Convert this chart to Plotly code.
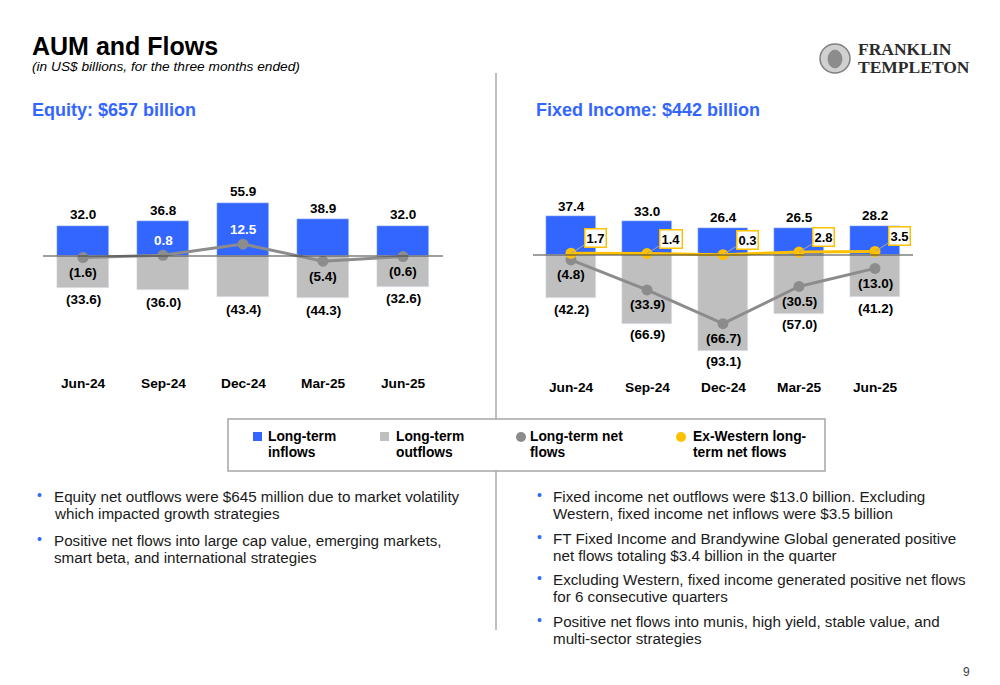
import plotly.graph_objects as go

# page is rendered with an 8px body margin, so the figure is shifted by OFF
OFF = 8
W, H = 1000 - OFF, 685 - OFF

# ---------------- data ----------------
quarters = ["Jun-24", "Sep-24", "Dec-24", "Mar-25", "Jun-25"]

eq_inflows = [32.0, 36.8, 55.9, 38.9, 32.0]
eq_outflows = [-33.6, -36.0, -43.4, -44.3, -32.6]
eq_net = [-1.6, 0.8, 12.5, -5.4, -0.6]

fi_inflows = [37.4, 33.0, 26.4, 26.5, 28.2]
fi_outflows = [-42.2, -66.9, -93.1, -57.0, -41.2]
fi_net = [-4.8, -33.9, -66.7, -30.5, -13.0]
fi_exwestern_net = [1.7, 1.4, 0.3, 2.8, 3.5]

title = "AUM and Flows"
subtitle = "(in US$ billions, for the three months ended)"
equity_header = "Equity: $657 billion"
fi_header = "Fixed Income: $442 billion"

legend_labels = [
    ["Long-term", "inflows"],
    ["Long-term", "outflows"],
    ["Long-term net", "flows"],
    ["Ex-Western long-", "term net flows"],
]

bullets_left = [
    ["Equity net outflows were $645 million due to market volatility",
     "which impacted growth strategies"],
    ["Positive net flows into large cap value, emerging markets,",
     "smart beta, and international strategies"],
]
bullets_right = [
    ["Fixed income net outflows were $13.0 billion. Excluding",
     "Western, fixed income net inflows were $3.5 billion"],
    ["FT Fixed Income and Brandywine Global generated positive",
     "net flows totaling $3.4 billion in the quarter"],
    ["Excluding Western, fixed income generated positive net flows",
     "for 6 consecutive quarters"],
    ["Positive net flows into munis, high yield, stable value, and",
     "multi-sector strategies"],
]
page_number = "9"

# ---------------- style ----------------
BLUE = "#3366FF"
GRAY_BAR = "#BFBFBF"
NET_GRAY = "#8C8C8C"
GOLD = "#FFC000"
FONT = "Liberation Sans"
LBL = 13.5


def px(x):
    return (x - OFF) / W


def py(y):
    return 1 - (y - OFF) / H


def fmt(v):
    return f"({abs(v):.1f})" if v < 0 else f"{v:.1f}"


# chart geometry (page pixels)
PLOT_TOP, PLOT_BOT = 140, 372
EQ_X0, EQ_X1, EQ_ZERO, EQ_SCALE = 43, 443, 256, 0.95
FI_X0, FI_X1, FI_ZERO, FI_SCALE = 533, 913, 255, 1.03

fig = go.Figure()

# equity bars
fig.add_trace(go.Bar(x=quarters, y=eq_inflows, marker_color=BLUE, width=0.65,
                     xaxis="x", yaxis="y", hoverinfo="skip"))
fig.add_trace(go.Bar(x=quarters, y=eq_outflows, marker_color=GRAY_BAR, width=0.65,
                     xaxis="x", yaxis="y", hoverinfo="skip"))
# fixed income bars
fig.add_trace(go.Bar(x=quarters, y=fi_inflows, marker_color=BLUE, width=0.645,
                     xaxis="x2", yaxis="y2", hoverinfo="skip"))
fig.add_trace(go.Bar(x=quarters, y=fi_outflows, marker_color=GRAY_BAR, width=0.645,
                     xaxis="x2", yaxis="y2", hoverinfo="skip"))
# net lines
fig.add_trace(go.Scatter(x=quarters, y=eq_net, mode="lines+markers",
                         line=dict(color=NET_GRAY, width=3),
                         marker=dict(color=NET_GRAY, size=11),
                         xaxis="x", yaxis="y", hoverinfo="skip"))
fig.add_trace(go.Scatter(x=quarters, y=fi_net, mode="lines+markers",
                         line=dict(color=NET_GRAY, width=3),
                         marker=dict(color=NET_GRAY, size=11),
                         xaxis="x2", yaxis="y2", hoverinfo="skip"))
fig.add_trace(go.Scatter(x=quarters, y=fi_exwestern_net, mode="lines+markers",
                         line=dict(color=GOLD, width=3),
                         marker=dict(color=GOLD, size=11),
                         xaxis="x2", yaxis="y2", hoverinfo="skip"))

annotations = []
shapes = []


def label(x, y, text, xref, yref, size=LBL, color="black", yshift=0, xshift=0):
    annotations.append(dict(x=x, y=y, xref=xref, yref=yref, text=f"<b>{text}</b>",
                            showarrow=False,
                            font=dict(family=FONT, size=size, color=color),
                            xanchor="center", yanchor="middle",
                            yshift=yshift, xshift=xshift))


def page_text(x, y, text, size, color="black", family=FONT, xanchor="left"):
    annotations.append(dict(x=px(x), y=py(y), xref="paper", yref="paper", text=text,
                            showarrow=False, xanchor=xanchor, yanchor="middle",
                            font=dict(family=family, size=size, color=color)))


# equity labels
for q, vi, vo, vn in zip(quarters, eq_inflows, eq_outflows, eq_net):
    label(q, vi, fmt(vi), "x", "y", yshift=11)
    label(q, vo, fmt(vo), "x", "y", yshift=-12)
    if vn >= 0:
        label(q, vn, fmt(vn), "x", "y", color="white", yshift=15)
    else:
        label(q, vn, fmt(vn), "x", "y", yshift=-15)
    annotations.append(dict(x=q, y=py(383), xref="x", yref="paper", text=f"<b>{q}</b>",
                            showarrow=False, font=dict(family=FONT, size=13.7, color="black"),
                            xanchor="center", yanchor="middle"))

# fixed income labels
for q, vi, vo, vn, vw in zip(quarters, fi_inflows, fi_outflows, fi_net, fi_exwestern_net):
    label(q, vi, fmt(vi), "x2", "y2", yshift=10)
    label(q, vo, fmt(vo), "x2", "y2", yshift=-11)
    label(q, vn, fmt(vn), "x2", "y2", yshift=-15)
    annotations.append(dict(x=q, y=vw, xref="x2", yref="y2", text=f"<b>{fmt(vw)}</b>",
                            showarrow=True, arrowhead=0, arrowwidth=1, arrowcolor="#A6A6A6",
                            ax=24, ay=-15, bordercolor=GOLD, borderwidth=1.5, borderpad=1,
                            bgcolor="white",
                            font=dict(family=FONT, size=13, color="black")))
    annotations.append(dict(x=q, y=py(388), xref="x2", yref="paper", text=f"<b>{q}</b>",
                            showarrow=False, font=dict(family=FONT, size=13.7, color="black"),
                            xanchor="center", yanchor="middle"))

# zero lines
shapes.append(dict(type="line", xref="x domain", yref="y", x0=0, x1=1, y0=0, y1=0,
                   line=dict(color="#404040", width=1.2), layer="above"))
shapes.append(dict(type="line", xref="x2 domain", yref="y2", x0=0, x1=1, y0=0, y1=0,
                   line=dict(color="#404040", width=1.2), layer="above"))

# titles
page_text(30, 46, f"<b>{title}</b>", 25)
page_text(30, 66, f"<i>{subtitle}</i>", 13.7)
page_text(30, 110, f"<b>{equity_header}</b>", 18, BLUE)
page_text(534, 110, f"<b>{fi_header}</b>", 18, BLUE)

# logo
shapes.append(dict(type="circle", xref="paper", yref="paper",
                   x0=px(820), x1=px(850), y0=py(73), y1=py(44),
                   fillcolor="#D0D0D0", line=dict(color="#7F7F7F", width=1.5), layer="above"))
shapes.append(dict(type="circle", xref="paper", yref="paper",
                   x0=px(828), x1=px(842), y0=py(68), y1=py(50),
                   fillcolor="#8C8C8C", line=dict(color="#6E6E6E", width=0.5), layer="above"))
page_text(856, 49, "<b>FRANKLIN</b>", 17.5, "#2B2B2B", "Liberation Serif")
page_text(856, 67, "<b>TEMPLETON</b>", 17.5, "#2B2B2B", "Liberation Serif")

# divider
shapes.append(dict(type="line", xref="paper", yref="paper", x0=px(496), x1=px(496),
                   y0=py(73), y1=py(630), line=dict(color="#BFBFBF", width=2), layer="above"))

# legend box
shapes.append(dict(type="rect", xref="paper", yref="paper", x0=px(228), x1=px(825),
                   y0=py(471), y1=py(419), fillcolor="white",
                   line=dict(color="#A6A6A6", width=1.5), layer="above"))
shapes.append(dict(type="rect", xref="paper", yref="paper", x0=px(253), x1=px(262),
                   y0=py(441), y1=py(432), fillcolor=BLUE, line=dict(width=0), layer="above"))
shapes.append(dict(type="rect", xref="paper", yref="paper", x0=px(380), x1=px(389),
                   y0=py(441), y1=py(432), fillcolor=GRAY_BAR, line=dict(width=0), layer="above"))
shapes.append(dict(type="circle", xref="paper", yref="paper", x0=px(516), x1=px(526),
                   y0=py(442), y1=py(432), fillcolor=NET_GRAY, line=dict(width=0), layer="above"))
shapes.append(dict(type="circle", xref="paper", yref="paper", x0=px(676), x1=px(686),
                   y0=py(442), y1=py(432), fillcolor=GOLD, line=dict(width=0), layer="above"))
legend_x = [266, 394, 528, 691]
for lx, lines in zip(legend_x, legend_labels):
    for i, ln in enumerate(lines):
        page_text(lx, 436 + 16 * i, f"<b>{ln}</b>", 13.8)


# bullets
def add_bullets(items, bx, tx, ys):
    for lines, y0 in zip(items, ys):
        page_text(bx, y0 - 1, "•", 14, BLUE)
        for i, ln in enumerate(lines):
            page_text(tx, y0 + 17 * i, ln, 15.2, "#1A1A1A")


add_bullets(bullets_left, 35, 52, [496, 540])
add_bullets(bullets_right, 535, 551, [496, 538, 579, 621])

page_text(966, 672, page_number, 12, "#404040", xanchor="center")

eq_ytop = (EQ_ZERO - PLOT_TOP) / EQ_SCALE
eq_ybot = -(PLOT_BOT - EQ_ZERO) / EQ_SCALE
fi_ytop = (FI_ZERO - PLOT_TOP) / FI_SCALE
fi_ybot = -(PLOT_BOT - FI_ZERO) / FI_SCALE

axis_common = dict(showgrid=False, zeroline=False, showline=False, showticklabels=False,
                   ticks="", fixedrange=True)

fig.update_layout(
    width=W, height=H,
    margin=dict(l=0, r=0, t=0, b=0),
    paper_bgcolor="white", plot_bgcolor="white",
    barmode="relative", bargap=0,
    showlegend=False,
    xaxis=dict(domain=[px(EQ_X0), px(EQ_X1)], range=[-0.5, 4.5], type="category",
               anchor="y", **axis_common),
    yaxis=dict(domain=[py(PLOT_BOT), py(PLOT_TOP)], range=[eq_ybot, eq_ytop],
               anchor="x", **axis_common),
    xaxis2=dict(domain=[px(FI_X0), px(FI_X1)], range=[-0.5, 4.5], type="category",
                anchor="y2", **axis_common),
    yaxis2=dict(domain=[py(PLOT_BOT), py(PLOT_TOP)], range=[fi_ybot, fi_ytop],
                anchor="x2", **axis_common),
    annotations=annotations,
    shapes=shapes,
    font=dict(family=FONT),
)

fig.write_html("out.html")
